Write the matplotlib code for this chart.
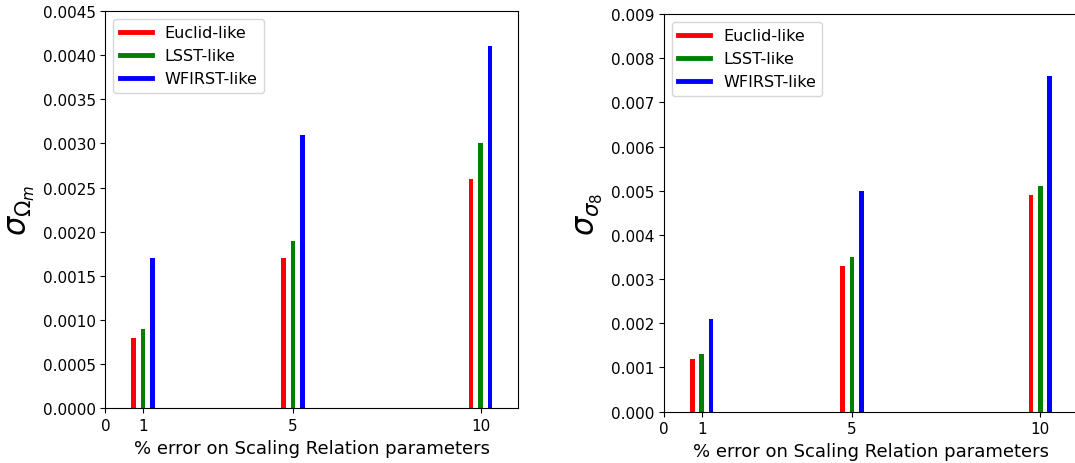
import numpy as np
import matplotlib
matplotlib.use('Agg')
import matplotlib.pyplot as plt

# percent error on scaling relation parameters
errors = np.array([1, 5, 10])
xticks = [0, 1, 5, 10]

# forecast uncertainty on Omega_m
om_euclid = [0.0008, 0.0017, 0.0026]
om_lsst = [0.0009, 0.0019, 0.0030]
om_wfirst = [0.0017, 0.0031, 0.0041]

# forecast uncertainty on sigma_8
s8_euclid = [0.0012, 0.0033, 0.0049]
s8_lsst = [0.0013, 0.0035, 0.0051]
s8_wfirst = [0.0021, 0.0050, 0.0076]

labels = ['Euclid-like', 'LSST-like', 'WFIRST-like']
colors = ['r', 'g', 'b']
offsets = [-0.25, 0.0, 0.25]
width = 0.12

fig = plt.figure(figsize=(10.75, 4.64), dpi=100)
ax1 = fig.add_axes([0.098, 0.118, 0.384, 0.856])
ax2 = fig.add_axes([0.6177, 0.1106, 0.385, 0.857])


def draw(ax, series, ylabel, ymax, yfmt):
    for vals, lab, c, off in zip(series, labels, colors, offsets):
        ax.bar(errors + off, vals, width=width, color=c)
        ax.plot([], [], color=c, lw=3.5, label=lab)
    ax.set_xlim(0, 11)
    ax.set_ylim(0, ymax)
    ax.set_xticks(xticks)
    ax.yaxis.set_major_formatter(matplotlib.ticker.FormatStrFormatter(yfmt))
    ax.tick_params(labelsize=11)
    ax.set_xlabel('% error on Scaling Relation parameters', fontsize=13)
    ax.set_ylabel(ylabel, fontsize=22)
    ax.legend(loc='upper left', fontsize=11.5)


draw(ax1, [om_euclid, om_lsst, om_wfirst], r'$\sigma_{\Omega_m}$', 0.0045, '%.4f')
ax1.set_yticks(np.arange(0, 0.00451, 0.0005))
draw(ax2, [s8_euclid, s8_lsst, s8_wfirst], r'$\sigma_{\sigma_8}$', 0.009, '%.3f')
ax2.set_yticks(np.arange(0, 0.00901, 0.001))

fig.savefig('out.png', dpi=100)
